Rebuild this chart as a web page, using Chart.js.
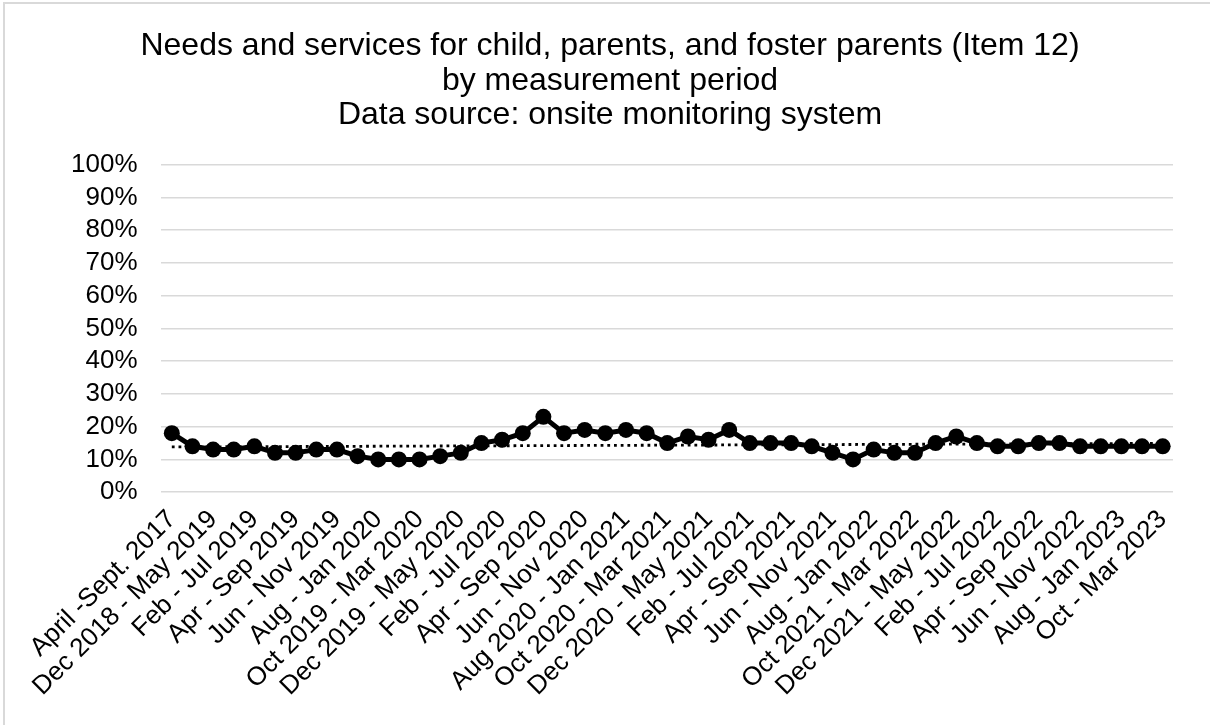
<!DOCTYPE html>
<html>
<head>
<meta charset="utf-8">
<script src="https://cdn.jsdelivr.net/npm/chart.js@4/dist/chart.umd.min.js"></script>
<style>
  html, body { margin: 0; padding: 0; background: #fff; }
  #wrap { position: relative; width: 1210px; height: 725px; overflow: hidden; }
  #frame {
    position: absolute; left: 3px; top: 2px; width: 1230px; height: 760px;
    border: 2px solid #d9d9d9; box-sizing: border-box;
  }
  canvas { position: absolute; left: 0; top: 0; }
</style>
</head>
<body>
<div id="wrap">
  <div id="frame"></div>
  <canvas id="chart" width="1210" height="725"></canvas>
</div>
<script>
// Measurement periods (only every other one is labelled on the axis)
const periods = [
  "April -Sept. 2017", "Nov 2018 - Apr 2019", "Dec 2018 - May 2019", "Jan - Jun 2019",
  "Feb - Jul 2019", "Mar - Aug 2019", "Apr - Sep 2019", "May - Oct 2019",
  "Jun - Nov 2019", "Jul - Dec 2019", "Aug - Jan 2020", "Sep 2019 - Feb 2020",
  "Oct 2019 - Mar 2020", "Nov 2019 - Apr 2020", "Dec 2019 - May 2020", "Jan - Jun 2020",
  "Feb - Jul 2020", "Mar - Aug 2020", "Apr - Sep 2020", "May - Oct 2020",
  "Jun - Nov 2020", "Jul - Dec 2020", "Aug 2020 - Jan 2021", "Sep 2020 - Feb 2021",
  "Oct 2020 - Mar 2021", "Nov 2020 - Apr 2021", "Dec 2020 - May 2021", "Jan - Jun 2021",
  "Feb - Jul 2021", "Mar - Aug 2021", "Apr - Sep 2021", "May - Oct 2021",
  "Jun - Nov 2021", "Jul - Dec 2021", "Aug - Jan 2022", "Sep 2021 - Feb 2022",
  "Oct 2021 - Mar 2022", "Nov 2021 - Apr 2022", "Dec 2021 - May 2022", "Jan - Jun 2022",
  "Feb - Jul 2022", "Mar - Aug 2022", "Apr - Sep 2022", "May - Oct 2022",
  "Jun - Nov 2022", "Jul - Dec 2022", "Aug - Jan 2023", "Sep 2022 - Feb 2023",
  "Oct - Mar 2023"
];

// Percent of cases rated strength
const item12Values = [
  18, 14, 13, 13, 14, 12, 12, 13, 13, 11,
  10, 10, 10, 11, 12, 15, 16, 18, 23, 18,
  19, 18, 19, 18, 15, 17, 16, 19, 15, 15,
  15, 14, 12, 10, 13, 12, 12, 15, 17, 15,
  14, 14, 15, 15, 14, 14, 14, 14, 14
];

// Dotted trend line end points
const trendStart = 13.8;
const trendEnd = 14.9;

const titleLines = [
  "Needs and services for child, parents, and foster parents (Item 12)",
  "by measurement period",
  "Data source: onsite monitoring system"
];

const yTicks = [0, 10, 20, 30, 40, 50, 60, 70, 80, 90, 100];

const trendData = periods.map((p, i) => {
  if (i === 0) return trendStart;
  if (i === periods.length - 1) return trendEnd;
  return null;
});

const font = "'Liberation Sans', Arial, sans-serif";

new Chart(document.getElementById("chart"), {
  type: "line",
  data: {
    labels: periods,
    datasets: [
      {
        label: "Item 12",
        data: item12Values,
        borderColor: "#000",
        backgroundColor: "#000",
        borderWidth: 5,
        pointRadius: 8,
        pointBackgroundColor: "#000",
        pointBorderWidth: 0,
        tension: 0,
        order: 1,
      },
      {
        label: "Trend",
        data: trendData,
        spanGaps: true,
        borderColor: "#000",
        borderWidth: 2.8,
        borderDash: [2.8, 3.9],
        pointRadius: 0,
        tension: 0,
        order: 2,
      },
    ],
  },
  options: {
    responsive: false,
    animation: false,
    layout: {
      padding: { left: 47, right: 37, top: 11, bottom: 11 },
    },
    plugins: {
      legend: { display: false },
      tooltip: { enabled: false },
      title: {
        display: true,
        text: titleLines,
        color: "#000",
        font: { family: font, size: 32, weight: "normal", lineHeight: 1.08 },
        padding: { top: 18, bottom: 32 },
      },
    },
    scales: {
      x: {
        offset: true,
        grid: { display: false, drawTicks: false },
        border: { display: false },
        ticks: {
          color: "#000",
          font: { family: font, size: 26 },
          maxRotation: 45,
          minRotation: 45,
          autoSkip: false,
          padding: 12,
          callback: function (value, index) {
            return index % 2 === 0 ? periods[index] : "";
          },
        },
      },
      y: {
        min: 0,
        max: 100,
        afterBuildTicks: (axis) => {
          axis.ticks = yTicks.map((v) => ({ value: v }));
        },
        grid: { color: "#d9d9d9", lineWidth: 1.5, drawTicks: false },
        border: { display: false },
        ticks: {
          color: "#000",
          font: { family: font, size: 26 },
          padding: 24,
          autoSkip: false,
          callback: (v) => v + "%",
        },
      },
    },
  },
});
</script>
</body>
</html>
